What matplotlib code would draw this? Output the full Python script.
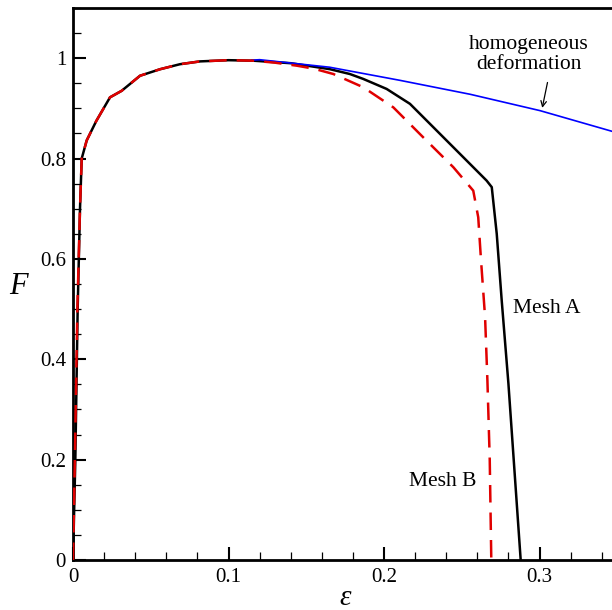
import numpy as np
import matplotlib
matplotlib.use("Agg")
import matplotlib.pyplot as plt
from matplotlib.ticker import MultipleLocator, FuncFormatter

plt.rcParams['font.family'] = ['Liberation Serif', 'DejaVu Serif']

# ---- data ----
# Mesh A (solid black)
eps_a = [0.0, 0.0015, 0.003, 0.0045, 0.0056, 0.0088, 0.015, 0.0238, 0.0313,
         0.0431, 0.056, 0.0688, 0.0817, 0.10, 0.116, 0.14, 0.157, 0.1653,
         0.178, 0.1867, 0.2017, 0.2167, 0.2296, 0.251, 0.266, 0.2693,
         0.2725, 0.2757, 0.28, 0.2879]
F_a = [0.0, 0.2, 0.5, 0.7, 0.80, 0.836, 0.875, 0.922, 0.935,
       0.965, 0.978, 0.988, 0.9936, 0.996, 0.995, 0.990, 0.982, 0.978,
       0.9685, 0.9586, 0.9387, 0.909, 0.869, 0.8026, 0.756, 0.743,
       0.650, 0.517, 0.352, 0.0]

# Mesh B (dashed red)
eps_b = [0.0, 0.0012, 0.0028, 0.0045, 0.0056, 0.0088, 0.015, 0.0238, 0.0313,
         0.0431, 0.056, 0.0688, 0.0817, 0.10, 0.116, 0.13, 0.144, 0.155,
         0.1674, 0.1867, 0.206, 0.2253, 0.2446, 0.2574, 0.2606, 0.2624,
         0.265, 0.2665, 0.268, 0.269]
F_b = [0.0, 0.2, 0.5, 0.7, 0.80, 0.836, 0.875, 0.922, 0.935,
       0.965, 0.978, 0.988, 0.9936, 0.996, 0.995, 0.991, 0.985, 0.979,
       0.9685, 0.942, 0.902, 0.842, 0.7827, 0.736, 0.683, 0.597,
       0.484, 0.358, 0.2, 0.0]

# homogeneous deformation (blue)
eps_h = [0.115, 0.12, 0.165, 0.21, 0.2555, 0.3003, 0.3466, 0.36]
F_h = [0.996, 0.997, 0.982, 0.956, 0.928, 0.8955, 0.8543, 0.842]

x_ticks = [0, 0.1, 0.2, 0.3]
y_ticks = [0, 0.2, 0.4, 0.6, 0.8, 1.0]

fig = plt.figure(figsize=(6.12, 6.10), dpi=100)
ax = fig.add_axes([73 / 612, 50 / 610, 0.35 * 1555 / 612, 552 / 610])

ax.plot(eps_a, F_a, color='black', lw=1.8, zorder=3)
ax.plot(eps_h, F_h, color='#0000ff', lw=1.2, zorder=4)
red, = ax.plot(eps_b, F_b, color='#e00000', lw=1.8, zorder=5)
red.set_dashes((7, 4))

ax.set_xlim(0, 0.35)
ax.set_ylim(0, 1.1)

ax.set_xticks(x_ticks)
ax.set_yticks(y_ticks)
ax.xaxis.set_minor_locator(MultipleLocator(0.02))
ax.yaxis.set_minor_locator(MultipleLocator(0.05))
fmt = FuncFormatter(lambda v, p: f'{v:g}')
ax.xaxis.set_major_formatter(fmt)
ax.yaxis.set_major_formatter(fmt)

ax.tick_params(which='major', direction='in', length=9.5, width=1.5,
               labelsize=15, top=False, right=False)
ax.tick_params(which='minor', direction='in', length=5.5, width=0.9,
               top=False, right=False)
ax.tick_params(axis='x', pad=6)
ax.tick_params(axis='y', pad=5)

for side in ['left', 'bottom', 'top']:
    ax.spines[side].set_linewidth(2.0)
ax.spines['right'].set_visible(False)

ax.set_xlabel('ε', fontsize=21, fontstyle='italic', labelpad=-2)
ax.set_ylabel('F', fontsize=22, fontstyle='italic', rotation=0,
              labelpad=22)
ax.yaxis.set_label_coords(-0.1, 0.47)

ax.text(0.2832, 0.501, 'Mesh A', fontsize=15.5, ha='left', va='center')
ax.text(0.2163, 0.156, 'Mesh B', fontsize=15.5, ha='left', va='center')
ax.text(0.2932, 1.007, 'homogeneous\ndeformation', fontsize=15.5,
        ha='center', va='center', linespacing=1.1)
ax.annotate('', xy=(0.3014, 0.8955), xytext=(0.3055, 0.957),
            arrowprops=dict(arrowstyle='->', color='black', lw=0.9))

fig.savefig('out.png', dpi=100)
